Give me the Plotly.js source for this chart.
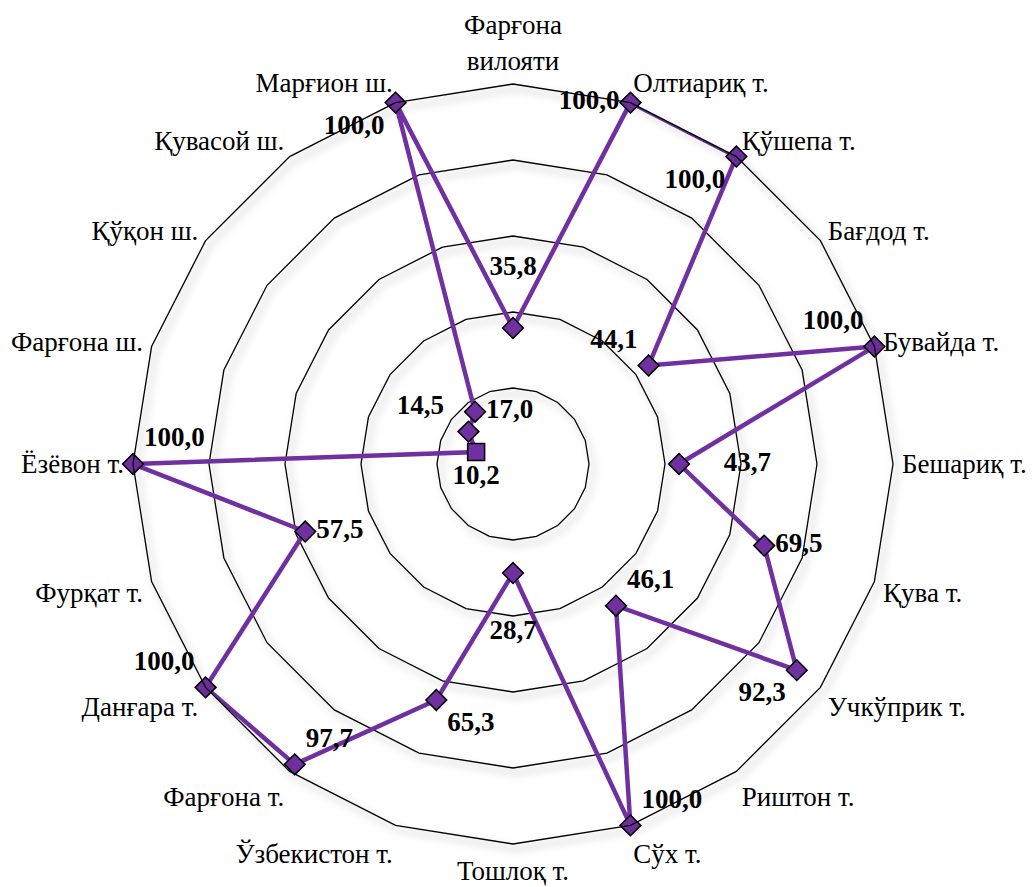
<!DOCTYPE html>
<html><head><meta charset="utf-8">
<script src="https://cdn.plot.ly/plotly-3.0.1.min.js"></script>
<style>html,body{margin:0;padding:0;background:#fff}#chart{width:1035px;height:887px}</style>
</head><body><div id="chart"></div>
<script>
const categories = ["Фарғона<br>вилояти","Олтиариқ т.","Қўшепа т.","Бағдод т.","Бувайда т.","Бешариқ т.","Қува т.","Учкўприк т.","Риштон т.","Сўх т.","Тошлоқ т.","Ўзбекистон т.","Фарғона т.","Данғара т.","Фурқат т.","Ёзёвон т.","Фарғона ш.","Қўқон ш.","Қувасой ш.","Марғион ш."];
const values = [35.8,100.0,100.0,44.1,100.0,43.7,69.5,92.3,46.1,100.0,28.7,65.3,97.7,100.0,57.5,100.0,10.2,14.5,17.0,100.0];
const labelPos = ["top center","middle left","bottom left","top left","top left","middle right","middle right","bottom left","top right","top right","bottom center","bottom right","top right","top left","middle right","top right","bottom center","top left","middle right","bottom left"];
const symbols = values.map((v,i)=> i===16 ? "square" : "diamond");

const fmt = v => v.toFixed(1).replace(".", ",");
const texts = values.map((v,i)=>{
  let t = fmt(v);
  if (i===0) t = t + "<br> ";
  if (i===10) t = " <br>" + t;
  if (i===5) t = "\u00a0\u00a0\u00a0\u00a0\u00a0" + t;
  if (i===17) t = t + "\u00a0\u00a0";
  return t;
});

const r = values.concat([values[0]]);
const th = categories.concat([categories[0]]);
const serif = "Liberation Serif";

const traces = [{
  type: "scatterpolar",
  r: r, theta: th,
  mode: "lines",
  line: {color: "#7030A0", width: 4.5},
  hoverinfo: "skip", showlegend: false
},{
  type: "scatterpolar",
  r: values, theta: categories,
  mode: "markers+text",
  marker: {symbol: symbols, size: values.map((v,i)=> i===16 ? 17 : 16), opacity: 1, color: "#7030A0", line: {color: "#000", width: 1.5}},
  text: texts,
  textposition: labelPos,
  textfont: {family: serif, size: 27, color: "#000", weight: "bold"},
  cliponaxis: false,
  showlegend: false
}];

const layout = {
  width: 1035, height: 887,
  margin: {l:0, r:0, t:0, b:0},
  paper_bgcolor: "#fff",
  showlegend: false,
  polar: {
    domain: {x: [133/1035, 893/1035], y: [43/887, 803/887]},
    bgcolor: "rgba(0,0,0,0)",
    gridshape: "linear",
    radialaxis: {range: [0,100], dtick: 20, tick0: 0, showticklabels: false, ticks: "", showline: false, gridcolor: "#000", gridwidth: 1.3},
    angularaxis: {direction: "clockwise", rotation: 90, showgrid: false, showline: true, linecolor: "#000", linewidth: 1.3,
      ticks: "outside", ticklen: 3, tickcolor: "rgba(0,0,0,0)",
      tickfont: {family: serif, size: 27, color: "#000"}}
  }
};

Plotly.newPlot("chart", traces, layout, {displayModeBar: false, staticPlot: true}).then(()=>{
  document.querySelectorAll(".radial-grid, .angular-line").forEach(el=>{
    el.style.filter = "drop-shadow(4px 5px 4px rgba(0,0,0,0.4))";
  });
});
</script>
</body></html>
